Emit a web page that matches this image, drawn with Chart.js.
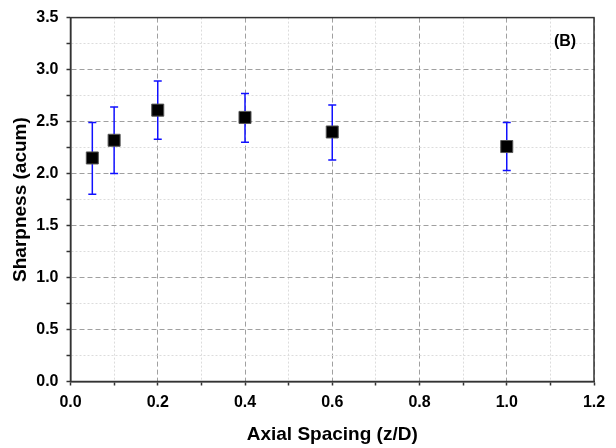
<!DOCTYPE html>
<html>
<head>
<meta charset="utf-8">
<script src="https://cdn.jsdelivr.net/npm/chart.js@4/dist/chart.umd.min.js"></script>
<style>
html,body{margin:0;padding:0;background:#fff;}
#c{display:block;}
</style>
</head>
<body>
<canvas id="c" width="616" height="448"></canvas>
<script>
const spacing = [0.05, 0.1, 0.2, 0.4, 0.6, 1.0];
const sharpness = [2.15, 2.32, 2.61, 2.54, 2.40, 2.26];
const errUpper = [2.49, 2.64, 2.89, 2.77, 2.66, 2.49];
const errLower = [1.80, 2.00, 2.33, 2.30, 2.13, 2.03];
const xTickLabels = ['0.0', '0.2', '0.4', '0.6', '0.8', '1.0', '1.2'];
const yTickLabels = ['0.0', '0.5', '1.0', '1.5', '2.0', '2.5', '3.0', '3.5'];
const panelLabel = '(B)';

const FONT = "'Liberation Sans', Arial, sans-serif";

function isMajor(v, step) {
  const r = v / step;
  return Math.abs(r - Math.round(r)) < 1e-6;
}

const errorBars = {
  id: 'errorBars',
  beforeDatasetsDraw(chart) {
    const ctx = chart.ctx, xs = chart.scales.x, ys = chart.scales.y;
    ctx.save();
    ctx.strokeStyle = '#1010ff';
    ctx.lineWidth = 1.5;
    for (let i = 0; i < spacing.length; i++) {
      const px = xs.getPixelForValue(spacing[i]);
      const pt = ys.getPixelForValue(errUpper[i]);
      const pb = ys.getPixelForValue(errLower[i]);
      ctx.beginPath();
      ctx.moveTo(px, pt); ctx.lineTo(px, pb);
      ctx.moveTo(px - 4, pt); ctx.lineTo(px + 4, pt);
      ctx.moveTo(px - 4, pb); ctx.lineTo(px + 4, pb);
      ctx.stroke();
    }
    ctx.restore();
  },
  afterDraw(chart) {
    const ctx = chart.ctx, a = chart.chartArea;
    ctx.save();
    ctx.strokeStyle = '#333';
    ctx.lineWidth = 1.5;
    ctx.strokeRect(a.left, a.top, a.right - a.left, a.bottom - a.top);
    ctx.fillStyle = '#000';
    ctx.font = 'bold 16px ' + FONT;
    ctx.textAlign = 'center';
    ctx.textBaseline = 'middle';
    ctx.fillText(panelLabel, a.right - 29, a.top + 24);
    ctx.restore();
  }
};

new Chart(document.getElementById('c'), {
  type: 'scatter',
  data: {
    datasets: [{
      data: spacing.map((x, i) => ({x: x, y: sharpness[i]})),
      pointStyle: 'rect',
      pointRadius: 8.5,
      pointHoverRadius: 8.5,
      backgroundColor: '#000',
      borderColor: '#555',
      borderWidth: 1
    }]
  },
  options: {
    responsive: false,
    animation: false,
    events: [],
    layout: {padding: {top: 14, right: 22, left: 0, bottom: 0}},
    plugins: {legend: {display: false}, tooltip: {enabled: false}},
    scales: {
      x: {
        type: 'linear',
        min: 0, max: 1.2,
        afterFit(s) { s.height = 66.5; },
        ticks: {
          stepSize: 0.1,
          autoSkip: false,
          maxRotation: 0,
          padding: 7,
          color: '#000',
          font: {family: FONT, size: 16, weight: 'bold'},
          callback(v) {
            if (!isMajor(v, 0.2)) return '';
            return xTickLabels[Math.round(v / 0.2)];
          }
        },
        grid: {
          drawOnChartArea: true,
          color(c) { return c.tick && isMajor(c.tick.value, 0.2) ? '#a0a0a0' : '#dcdcdc'; },
          lineWidth: 1,
          tickColor: '#333',
          tickLength: 4,
          tickWidth: 1.5
        },
        border: {
          display: true, color: '#333', width: 1.5,
          dash(c) { return c.tick && isMajor(c.tick.value, 0.2) ? [5, 3] : [2, 2]; }
        },
        title: {
          display: true,
          text: 'Axial Spacing (z/D)',
          color: '#000',
          font: {family: FONT, size: 19, weight: 'bold'},
          padding: {top: 0, bottom: 2}
        }
      },
      y: {
        type: 'linear',
        min: 0, max: 3.5,
        afterFit(s) { s.width = 70.5; },
        ticks: {
          stepSize: 0.25,
          autoSkip: false,
          padding: 8,
          color: '#000',
          font: {family: FONT, size: 16, weight: 'bold'},
          callback(v) {
            if (!isMajor(v, 0.5)) return '';
            return yTickLabels[Math.round(v / 0.5)];
          }
        },
        grid: {
          drawOnChartArea: true,
          color(c) { return c.tick && isMajor(c.tick.value, 0.5) ? '#a0a0a0' : '#dcdcdc'; },
          lineWidth: 1,
          tickColor: '#333',
          tickLength: 4,
          tickWidth: 1.5
        },
        border: {
          display: true, color: '#333', width: 1.5,
          dash(c) { return c.tick && isMajor(c.tick.value, 0.5) ? [5, 3] : [2, 2]; }
        },
        title: {
          display: true,
          text: 'Sharpness (acum)',
          color: '#000',
          font: {family: FONT, size: 19, weight: 'bold'},
          padding: {top: 9, bottom: 0}
        }
      }
    }
  },
  plugins: [errorBars]
});
</script>
</body>
</html>
